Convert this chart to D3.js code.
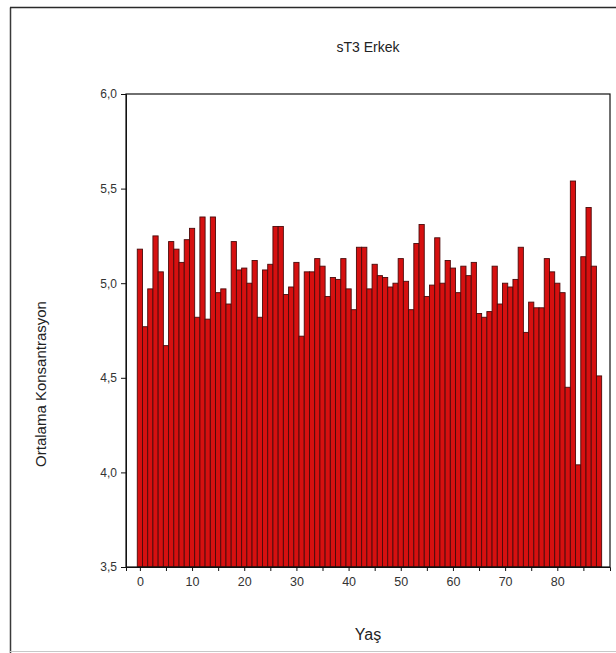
<!DOCTYPE html>
<html>
<head>
<meta charset="utf-8">
<script src="https://cdn.jsdelivr.net/npm/d3@7"></script>
<style>
  body { margin: 0; background: #fff; }
  text { font-family: "Liberation Sans", Arial, sans-serif; }
</style>
</head>
<body>
<div id="chart"></div>
<script>
// mean concentration per age (0..88)
const ages = d3.range(0, 89);
const values = [
  5.18, 4.77, 4.97, 5.25, 5.06, 4.67, 5.22, 5.18, 5.11, 5.23,
  5.29, 4.82, 5.35, 4.81, 5.35, 4.95, 4.97, 4.89, 5.22, 5.07,
  5.08, 5.00, 5.12, 4.82, 5.07, 5.10, 5.30, 5.30, 4.94, 4.98,
  5.11, 4.72, 5.06, 5.06, 5.13, 5.09, 4.93, 5.03, 5.02, 5.13,
  4.97, 4.86, 5.19, 5.19, 4.97, 5.10, 5.04, 5.03, 4.98, 5.00,
  5.13, 5.01, 4.86, 5.21, 5.31, 4.93, 4.99, 5.24, 5.00, 5.12,
  5.08, 4.95, 5.09, 5.04, 5.11, 4.84, 4.82, 4.85, 5.09, 4.89,
  5.00, 4.98, 5.02, 5.19, 4.74, 4.90, 4.87, 4.87, 5.13, 5.06,
  5.00, 4.95, 4.45, 5.54, 4.04, 5.14, 5.40, 5.09, 4.51
];
const yTicks = [3.5, 4.0, 4.5, 5.0, 5.5, 6.0];
const xTicks = d3.range(0, 90, 5);
const xLabels = [0, 10, 20, 30, 40, 50, 60, 70, 80];

const W = 616, H = 653;
const plot = { left: 126, right: 610, top: 94, bottom: 567 };

const svg = d3.select("#chart")
  .append("svg")
  .attr("width", W)
  .attr("height", H);

svg.append("rect").attr("width", W).attr("height", H).attr("fill", "#fff");

// outer frame: dark left/top, faint bottom
svg.append("line")
  .attr("x1", 10.5).attr("y1", 7.5).attr("x2", 10.5).attr("y2", H)
  .attr("stroke", "#3a3a3a").attr("stroke-width", 1.5);
svg.append("line")
  .attr("x1", 10).attr("y1", 7.5).attr("x2", W).attr("y2", 7.5)
  .attr("stroke", "#2a2a2a").attr("stroke-width", 1.5);
svg.append("line")
  .attr("x1", 10).attr("y1", 651.5).attr("x2", W).attr("y2", 651.5)
  .attr("stroke", "#c8c8c8").attr("stroke-width", 1);

const x = d3.scaleLinear()
  .domain([-2.66, 90.1])
  .range([plot.left, plot.right]);

const y = d3.scaleLinear()
  .domain([3.5, 6.0])
  .range([plot.bottom, plot.top]);

// bars
svg.append("g")
  .selectAll("rect")
  .data(ages)
  .join("rect")
  .attr("x", d => x(d - 0.5))
  .attr("width", d => x(d + 0.5) - x(d - 0.5))
  .attr("y", d => y(values[d]))
  .attr("height", d => y(3.5) - y(values[d]))
  .attr("fill", "#d61010")
  .attr("stroke", "#4a0b0b")
  .attr("stroke-width", 0.9);

// plot box
svg.append("rect")
  .attr("x", plot.left).attr("y", plot.top)
  .attr("width", plot.right - plot.left)
  .attr("height", plot.bottom - plot.top)
  .attr("fill", "none")
  .attr("stroke", "#111")
  .attr("stroke-width", 1.2);

// y axis
const fmt = d => d3.format(".1f")(d).replace(".", ",");
const yAxis = svg.append("g")
  .attr("transform", `translate(${plot.left},0)`)
  .call(d3.axisLeft(y).tickValues(yTicks).tickFormat(fmt).tickSize(5).tickPadding(4));
yAxis.select(".domain").attr("stroke", "#111");
yAxis.selectAll("line").attr("stroke", "#111");
yAxis.selectAll("text").attr("font-size", 12).attr("fill", "#333");

// x axis
const xAxis = svg.append("g")
  .attr("transform", `translate(0,${plot.bottom})`)
  .call(d3.axisBottom(x).tickValues(xTicks)
    .tickFormat(d => xLabels.includes(d) ? d : "")
    .tickSize(4).tickPadding(6));
xAxis.select(".domain").attr("stroke", "#111");
xAxis.selectAll("line").attr("stroke", "#111");
xAxis.selectAll("text")
  .attr("font-size", 12.5)
  .attr("fill", "#333")
  .style("font-family", "'Liberation Sans Narrow', 'Liberation Sans', sans-serif");

// titles
svg.append("text")
  .attr("x", 368).attr("y", 52)
  .attr("text-anchor", "middle")
  .attr("font-size", 14)
  .attr("fill", "#222")
  .text("sT3 Erkek");

svg.append("text")
  .attr("transform", "translate(46,384) rotate(-90)")
  .attr("text-anchor", "middle")
  .attr("font-size", 15)
  .attr("fill", "#222")
  .text("Ortalama Konsantrasyon");

svg.append("text")
  .attr("x", 368).attr("y", 640)
  .attr("text-anchor", "middle")
  .attr("font-size", 16)
  .attr("fill", "#222")
  .text("Yaş");
</script>
</body>
</html>
